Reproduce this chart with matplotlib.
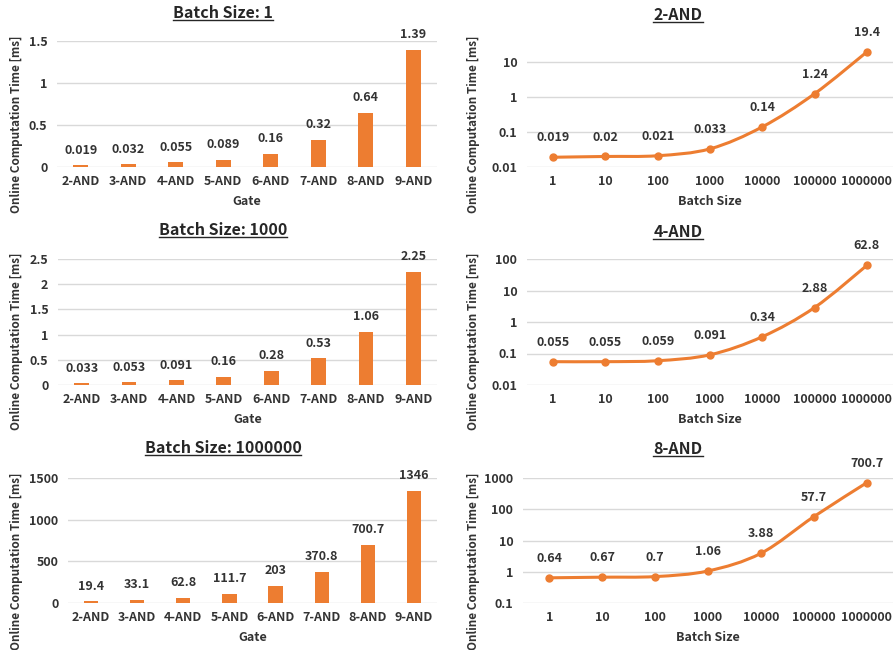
import matplotlib
matplotlib.use("Agg")
import math
import matplotlib.pyplot as plt
from matplotlib.ticker import FixedLocator, FuncFormatter
from matplotlib.lines import Line2D
from matplotlib.path import Path
from matplotlib.patches import PathPatch

plt.rcParams['font.family'] = ['Noto Sans CJK JP', 'DejaVu Sans']
plt.rcParams['font.weight'] = 'bold'

# ---- data ----
gates = ["2-AND", "3-AND", "4-AND", "5-AND", "6-AND", "7-AND", "8-AND", "9-AND"]
bs1_vals = [0.019, 0.032, 0.055, 0.089, 0.16, 0.32, 0.64, 1.39]
bs1000_vals = [0.033, 0.053, 0.091, 0.16, 0.28, 0.53, 1.06, 2.25]
bs1m_vals = [19.4, 33.1, 62.8, 111.7, 203, 370.8, 700.7, 1346]
bs1_labels = ["0.019", "0.032", "0.055", "0.089", "0.16", "0.32", "0.64", "1.39"]
bs1000_labels = ["0.033", "0.053", "0.091", "0.16", "0.28", "0.53", "1.06", "2.25"]
bs1m_labels = ["19.4", "33.1", "62.8", "111.7", "203", "370.8", "700.7", "1346"]

batch_sizes = ["1", "10", "100", "1000", "10000", "100000", "1000000"]
and2_vals = [0.019, 0.02, 0.021, 0.033, 0.14, 1.24, 19.4]
and4_vals = [0.055, 0.055, 0.059, 0.091, 0.34, 2.88, 62.8]
and8_vals = [0.64, 0.67, 0.7, 1.06, 3.88, 57.7, 700.7]
and2_labels = ["0.019", "0.02", "0.021", "0.033", "0.14", "1.24", "19.4"]
and4_labels = ["0.055", "0.055", "0.059", "0.091", "0.34", "2.88", "62.8"]
and8_labels = ["0.64", "0.67", "0.7", "1.06", "3.88", "57.7", "700.7"]

ORANGE = "#ED7D31"
TXT = "#333333"
GRID = "#D9D9D9"

W, H = 894, 650
fig = plt.figure(figsize=(W / 100, H / 100), dpi=100)


def rect(l, r, t, b):
    return [l / W, 1 - b / H, (r - l) / W, (b - t) / H]


def style(ax):
    for s in ax.spines.values():
        s.set_visible(False)
    ax.grid(axis='y', color=GRID, lw=1)
    ax.set_axisbelow(True)
    ax.tick_params(axis='both', length=0, labelsize=9, labelcolor=TXT)
    ax.tick_params(axis='y', pad=7)
    ax.tick_params(axis='x', pad=6)
    for lab in ax.get_xticklabels() + ax.get_yticklabels():
        lab.set_fontweight('bold')


titles = []


def bar_panel(pos, vals, labels, ymax, ystep, title, ylab_y):
    ax = fig.add_axes(rect(*pos))
    x = list(range(len(gates)))
    ax.bar(x, vals, width=0.31, color=ORANGE, zorder=3)
    ax.set_xlim(-0.5, len(gates) - 0.5)
    ax.set_ylim(0, ymax)
    ticks = []
    v = 0.0
    while v <= ymax + 1e-9:
        ticks.append(round(v, 6))
        v += ystep
    ax.set_yticks(ticks)
    ax.yaxis.set_major_formatter(FuncFormatter(lambda val, p: "%g" % val))
    ax.set_xticks(x)
    ax.set_xticklabels(gates)
    style(ax)
    for xi, v, lab in zip(x, vals, labels):
        ax.annotate(lab, (xi, v), xytext=(0, 11), textcoords='offset points',
                    ha='center', va='center', fontsize=9, fontweight='bold', color=TXT)
    ax.set_xlabel("Gate", fontsize=9, fontweight='bold', color=TXT, labelpad=5)
    fig.text(17 / W, 1 - ylab_y / H, "Online Computation Time [ms]", rotation=90,
             ha='center', va='center', fontsize=8.5, color=TXT)
    titles.append(fig.text(223 / W, 1 - title[1] / H, title[0], ha='center', va='center',
                           fontsize=11.5, fontweight='bold', color='#262626'))
    return ax


def smooth_path(xs, ys):
    # Catmull-Rom style Bezier through the data points (curve drawn in log-y space)
    ly = [math.log10(v) for v in ys]
    n = len(xs)
    verts = [(xs[0], ys[0])]
    codes = [Path.MOVETO]
    for i in range(n - 1):
        x0, y0 = xs[max(i - 1, 0)], ly[max(i - 1, 0)]
        x1, y1 = xs[i], ly[i]
        x2, y2 = xs[i + 1], ly[i + 1]
        x3, y3 = xs[min(i + 2, n - 1)], ly[min(i + 2, n - 1)]
        c1 = (x1 + (x2 - x0) / 6, y1 + (y2 - y0) / 6)
        c2 = (x2 - (x3 - x1) / 6, y2 - (y3 - y1) / 6)
        verts += [(c1[0], 10 ** c1[1]), (c2[0], 10 ** c2[1]), (x2, ys[i + 1])]
        codes += [Path.CURVE4] * 3
    return Path(verts, codes)


def line_panel(pos, vals, labels, ylim, yticks, title, ylab_y):
    ax = fig.add_axes(rect(*pos))
    x = list(range(len(batch_sizes)))
    ax.set_yscale('log')
    ax.add_patch(PathPatch(smooth_path(x, vals), facecolor='none', edgecolor=ORANGE,
                           lw=2.2, zorder=3, capstyle='round', joinstyle='round'))
    ax.plot(x, vals, color=ORANGE, lw=0, marker='o', markersize=5, zorder=4)
    ax.set_xlim(-0.5, len(batch_sizes) - 0.5)
    ax.set_ylim(*ylim)
    ax.yaxis.set_major_locator(FixedLocator(yticks))
    ax.yaxis.set_minor_locator(FixedLocator([]))
    ax.yaxis.set_major_formatter(FuncFormatter(lambda val, p: "%g" % val))
    ax.set_xticks(x)
    ax.set_xticklabels(batch_sizes)
    style(ax)
    for xi, v, lab in zip(x, vals, labels):
        ax.annotate(lab, (xi, v), xytext=(0, 14), textcoords='offset points',
                    ha='center', va='center', fontsize=9, fontweight='bold', color=TXT)
    ax.set_xlabel("Batch Size", fontsize=9, fontweight='bold', color=TXT, labelpad=5)
    fig.text(473 / W, 1 - ylab_y / H, "Online Computation Time [ms]", rotation=90,
             ha='center', va='center', fontsize=8.5, color=TXT)
    titles.append(fig.text(678 / W, 1 - title[1] / H, title[0], ha='center', va='center',
                           fontsize=11.5, fontweight='bold', color='#262626'))
    return ax


bar_panel((57, 437, 41, 167), bs1_vals, bs1_labels, 1.5, 0.5, ("Batch Size: 1", 13), 124)
bar_panel((58, 437, 259, 385), bs1000_vals, bs1000_labels, 2.5, 0.5, ("Batch Size: 1000", 230), 341)
bar_panel((68, 437, 478, 603), bs1m_vals, bs1m_labels, 1500, 500, ("Batch Size: 1000000", 448), 561)

line_panel((527, 893, 45, 167), and2_vals, and2_labels, (0.01, 30.6), [0.01, 0.1, 1, 10],
           ("2-AND", 15), 124)
line_panel((527, 893, 259, 385), and4_vals, and4_labels, (0.01, 100), [0.01, 0.1, 1, 10, 100],
           ("4-AND", 232), 341)
line_panel((523, 893, 478, 603), and8_vals, and8_labels, (0.1, 1000), [0.1, 1, 10, 100, 1000],
           ("8-AND", 449), 561)

# underline titles
fig.canvas.draw()
r = fig.canvas.get_renderer()
inv = fig.transFigure.inverted()
for t in titles:
    bb = t.get_window_extent(renderer=r)
    (x0, y0) = inv.transform((bb.x0, bb.y0 + 1))
    (x1, _) = inv.transform((bb.x1, bb.y0 + 1))
    fig.add_artist(Line2D([x0, x1], [y0, y0], transform=fig.transFigure,
                          color='#262626', lw=1.0))

fig.savefig("out.png", dpi=100)
